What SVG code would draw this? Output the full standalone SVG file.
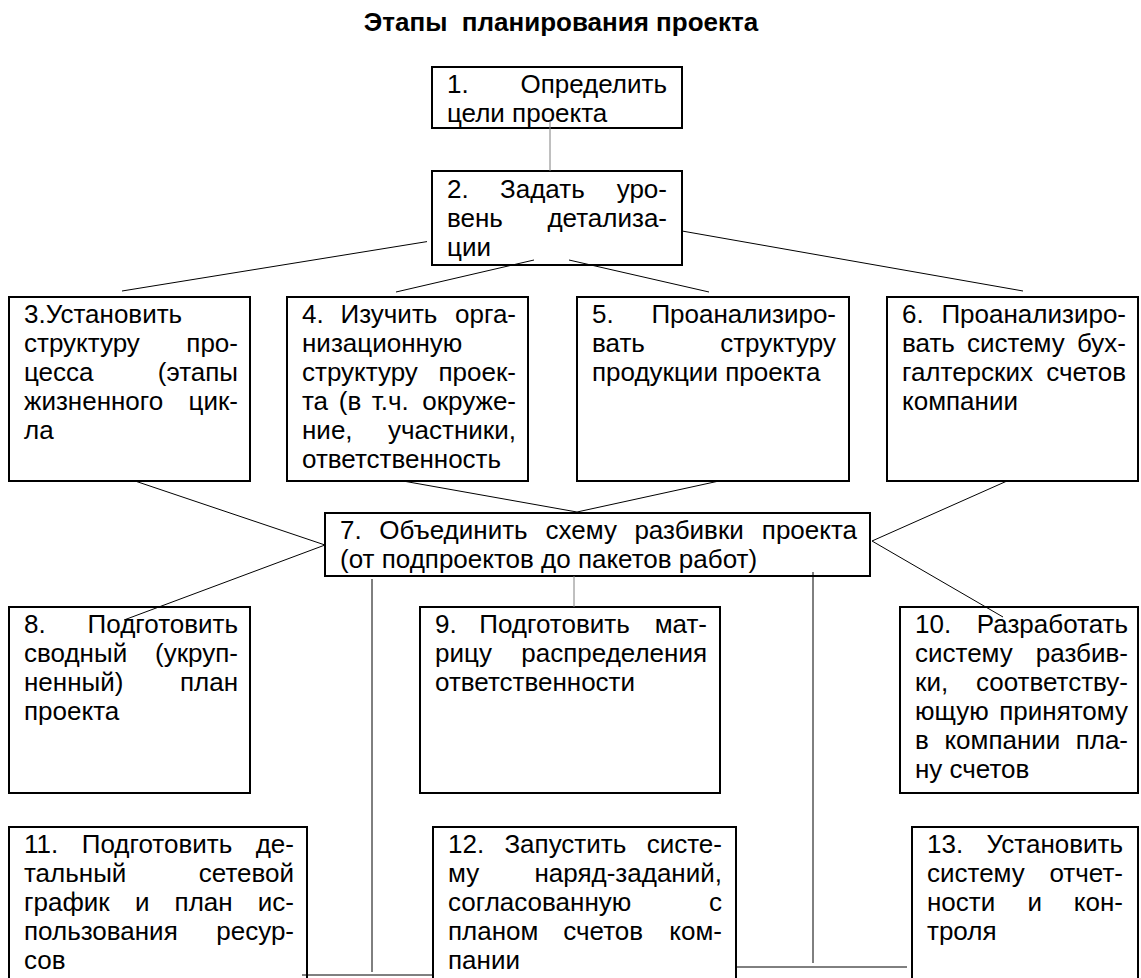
<svg xmlns="http://www.w3.org/2000/svg" width="1141" height="978" viewBox="0 0 1141 978">
<style>
.box{fill:none;stroke:#000;stroke-width:2}
.t{font-family:"Liberation Sans",Arial,sans-serif;font-size:26px;fill:#000}
.e{text-anchor:end}
.title{font-family:"Liberation Sans",Arial,sans-serif;font-size:26px;font-weight:bold;fill:#000;text-anchor:middle}
.c{stroke:#000;stroke-width:1;fill:none}
.g{stroke:#808080}
</style>
<rect x="0" y="0" width="1141" height="978" fill="#fff"/>
<text class="title" x="561" y="31" xml:space="preserve">Этапы  планирования проекта</text>

<g id="n1">
<rect class="box" x="432" y="67" width="250" height="61"/>
<text class="t" x="447" y="93">1.</text><text class="t e" x="667" y="93">Определить</text>
<text class="t" x="447" y="122">цели проекта</text>
</g>
<g id="n2">
<rect class="box" x="432" y="171" width="250" height="94"/>
<text class="t" x="447" y="198">2.</text><text class="t" x="500" y="198">Задать</text><text class="t e" x="667" y="198">уро-</text>
<text class="t" x="447" y="227">вень</text><text class="t e" x="667" y="227">детализа-</text>
<text class="t" x="447" y="256">ции</text>
</g>
<g id="n3">
<rect class="box" x="9" y="297" width="241" height="184"/>
<text class="t" x="24" y="323">3.Установить</text>
<text class="t" x="24" y="352">структуру</text><text class="t e" x="238" y="352">про-</text>
<text class="t" x="24" y="381">цесса</text><text class="t e" x="238" y="381">(этапы</text>
<text class="t" x="24" y="410">жизненного</text><text class="t e" x="238" y="410">цик-</text>
<text class="t" x="24" y="439">ла</text>
</g>
<g id="n4">
<rect class="box" x="287" y="297" width="241" height="184"/>
<text class="t" x="302" y="323">4.</text><text class="t" x="340.5" y="323">Изучить</text><text class="t e" x="516" y="323">орга-</text>
<text class="t" x="302" y="352">низационную</text>
<text class="t" x="302" y="381">структуру</text><text class="t e" x="516" y="381">проек-</text>
<text class="t" x="302" y="410">та</text><text class="t" x="338.8" y="410">(в</text><text class="t" x="371.7" y="410">т.ч.</text><text class="t e" x="516" y="410">окруже-</text>
<text class="t" x="302" y="439">ние,</text><text class="t e" x="516" y="439">участники,</text>
<text class="t" x="302" y="468">ответственность</text>
</g>
<g id="n5">
<rect class="box" x="577" y="297" width="272" height="184"/>
<text class="t" x="592" y="323">5.</text><text class="t e" x="836" y="323">Проанализиро-</text>
<text class="t" x="592" y="352">вать</text><text class="t e" x="836" y="352">структуру</text>
<text class="t" x="592" y="381">продукции проекта</text>
</g>
<g id="n6">
<rect class="box" x="887" y="297" width="251" height="184"/>
<text class="t" x="902" y="323">6.</text><text class="t e" x="1126" y="323">Проанализиро-</text>
<text class="t" x="902" y="352">вать</text><text class="t" x="967" y="352">систему</text><text class="t e" x="1126" y="352">бух-</text>
<text class="t" x="902" y="381">галтерских</text><text class="t e" x="1126" y="381">счетов</text>
<text class="t" x="902" y="410">компании</text>
</g>
<g id="n7">
<rect class="box" x="325" y="513" width="545" height="63"/>
<text class="t" x="340" y="539">7.</text><text class="t" x="379.2" y="539">Объединить</text><text class="t" x="545.6" y="539">схему</text><text class="t" x="634.4" y="539">разбивки</text><text class="t e" x="857" y="539">проекта</text>
<text class="t" x="340" y="568">(от подпроектов до пакетов работ)</text>
</g>
<g id="n8">
<rect class="box" x="9" y="607" width="241" height="186"/>
<text class="t" x="24" y="633">8.</text><text class="t e" x="238" y="633">Подготовить</text>
<text class="t" x="24" y="662">сводный</text><text class="t e" x="238" y="662">(укруп-</text>
<text class="t" x="24" y="691">ненный)</text><text class="t e" x="238" y="691">план</text>
<text class="t" x="24" y="720">проекта</text>
</g>
<g id="n9">
<rect class="box" x="420" y="607" width="300" height="186"/>
<text class="t" x="435" y="633">9.</text><text class="t" x="479.3" y="633">Подготовить</text><text class="t e" x="707" y="633">мат-</text>
<text class="t" x="435" y="662">рицу</text><text class="t e" x="707" y="662">распределения</text>
<text class="t" x="435" y="691">ответственности</text>
</g>
<g id="n10">
<rect class="box" x="900" y="607" width="238" height="186"/>
<text class="t" x="915" y="633">10.</text><text class="t e" x="1128" y="633">Разработать</text>
<text class="t" x="915" y="662">систему</text><text class="t e" x="1128" y="662">разбив-</text>
<text class="t" x="915" y="691">ки,</text><text class="t e" x="1128" y="691">соответству-</text>
<text class="t" x="915" y="720">ющую</text><text class="t e" x="1128" y="720">принятому</text>
<text class="t" x="915" y="749">в</text><text class="t" x="944.4" y="749">компании</text><text class="t e" x="1128" y="749">пла-</text>
<text class="t" x="915" y="778">ну счетов</text>
</g>
<g id="n11">
<rect class="box" x="9" y="827" width="298" height="200"/>
<text class="t" x="24" y="853">11.</text><text class="t" x="81.8" y="853">Подготовить</text><text class="t e" x="294" y="853">де-</text>
<text class="t" x="24" y="882">тальный</text><text class="t e" x="294" y="882">сетевой</text>
<text class="t" x="24" y="911">график</text><text class="t" x="134.9" y="911">и</text><text class="t" x="174.6" y="911">план</text><text class="t e" x="294" y="911">ис-</text>
<text class="t" x="24" y="940">пользования</text><text class="t e" x="294" y="940">ресур-</text>
<text class="t" x="24" y="969">сов</text>
</g>
<g id="n12">
<rect class="box" x="433" y="827" width="303" height="200"/>
<text class="t" x="448" y="853">12.</text><text class="t" x="504.4" y="853">Запустить</text><text class="t e" x="722" y="853">систе-</text>
<text class="t" x="448" y="882">му</text><text class="t e" x="722" y="882">наряд-заданий,</text>
<text class="t" x="448" y="911">согласованную</text><text class="t e" x="722" y="911">с</text>
<text class="t" x="448" y="940">планом</text><text class="t" x="563.3" y="940">счетов</text><text class="t e" x="722" y="940">ком-</text>
<text class="t" x="448" y="969">пании</text>
</g>
<g id="n13">
<rect class="box" x="912" y="827" width="226" height="200"/>
<text class="t" x="927" y="853">13.</text><text class="t e" x="1123" y="853">Установить</text>
<text class="t" x="927" y="882">систему</text><text class="t e" x="1123" y="882">отчет-</text>
<text class="t" x="927" y="911">ности</text><text class="t" x="1027.5" y="911">и</text><text class="t e" x="1123" y="911">кон-</text>
<text class="t" x="927" y="940">троля</text>
</g>

<g id="connectors">
<line class="c g" x1="550" y1="121" x2="550" y2="171"/>
<line class="c" x1="427" y1="241.6" x2="122" y2="291"/>
<line class="c" x1="534" y1="260" x2="396" y2="292"/>
<line class="c" x1="569" y1="260" x2="709" y2="292"/>
<line class="c" x1="682" y1="231" x2="1023" y2="291"/>
<line class="c" x1="135" y1="481" x2="325" y2="545"/>
<line class="c" x1="403" y1="481" x2="577" y2="512"/>
<line class="c" x1="719" y1="481" x2="577" y2="512"/>
<line class="c" x1="1007" y1="481" x2="872" y2="541"/>
<line class="c" x1="325" y1="545" x2="124" y2="620"/>
<line class="c" x1="872" y1="541" x2="1003" y2="617"/>
<line class="c g" x1="574" y1="576" x2="574" y2="607"/>
<line class="c" x1="372" y1="579" x2="372" y2="972"/>
<line class="c" x1="813" y1="572" x2="813" y2="963"/>
<line class="c" x1="302" y1="975" x2="432" y2="975"/>
<line class="c" x1="735" y1="967" x2="907" y2="967"/>
</g>
</svg>
